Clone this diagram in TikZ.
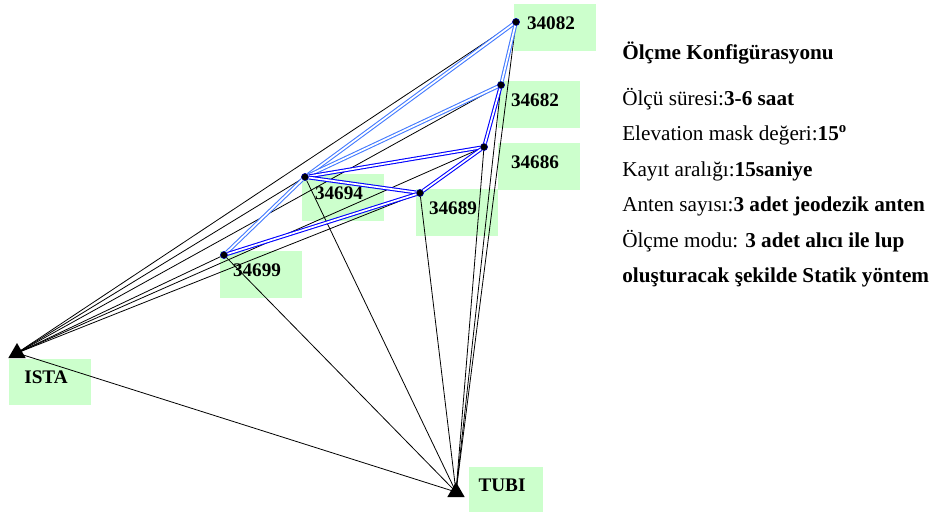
\documentclass[tikz,border=0pt]{standalone}
\usepackage{fontspec}
\setmainfont{Liberation Serif}
\usetikzlibrary{shapes.geometric}
\definecolor{boxgreen}{RGB}{204,255,204}
\definecolor{lightblue}{RGB}{66,121,255}

\tikzset{
  stn/.style={circle,fill=black,draw=blue!70!black,inner sep=0pt,minimum size=5.4pt},
  refpt/.style={regular polygon,regular polygon sides=3,fill=black,inner sep=0pt,minimum size=15pt},
  box/.style={fill=boxgreen,minimum width=61.5pt,minimum height=35pt,inner sep=0pt,
    label={[name=t#1,font=\fontsize{14.4}{16}\selectfont\bfseries,xshift=-3pt,yshift=3.4pt]center:#1}},
  obs/.style={line width=0.6pt},
  lblue/.style={draw=lightblue,double=white,double distance=1.3pt,line width=0.8pt},
  dblue/.style={draw=blue,double=white,double distance=1.3pt,line width=0.8pt},
  info/.style={anchor=base west,inner sep=0pt,font=\fontsize{15.9}{18}\selectfont}
}

\begin{document}
\begin{tikzpicture}[x=0.75pt,y=-0.75pt]
\useasboundingbox (0,0) rectangle (938,511);
% label boxes
\node[box=34082] (b34082) at (555,27.5) {};
\node[box=34682] (b34682) at (539,104.5) {};
\node[box=34686] (b34686) at (539,166.5) {};
\node[box=34694] (b34694) at (343,197.5) {};
\node[box=34689] (b34689) at (457,212.5) {};
\node[box=34699] (b34699) at (261,274.5) {};
\node[box=ISTA] (bISTA) at (50,382) {};
\node[box=TUBI,minimum width=56pt] (bTUBI) at (506,490) {};
% stations
\node[stn] (s34082) at (516,22) {};
\node[stn] (s34682) at (501,85) {};
\node[stn] (s34686) at (484,147) {};
\node[stn] (s34694) at (305,177) {};
\node[stn] (s34689) at (420,193) {};
\node[stn] (s34699) at (224,255) {};
\node[refpt] (ista) at (17,353) {};
\node[refpt] (tubi) at (456,492) {};
% ties to ISTA and TUBI
\draw[obs] (ista.center) -- (s34082);
\draw[obs] (ista.center) -- (s34682);
\draw[obs] (ista.center) -- (s34686);
\draw[obs] (ista.center) -- (s34694);
\draw[obs] (ista.center) -- (s34689);
\draw[obs] (ista.center) -- (s34699);
\draw[obs] (ista.center) -- (tubi.center);
\draw[obs] (tubi.center) -- (s34082);
\draw[obs] (tubi.center) -- (s34682);
\draw[obs] (tubi.center) -- (s34686);
\draw[obs] (tubi.center) -- (s34694);
\draw[obs] (tubi.center) -- (s34689);
\draw[obs] (tubi.center) -- (s34699);
% loops
\draw[lblue] (s34694) -- (s34082);
\draw[lblue] (s34682) -- (s34082);
\draw[lblue] (s34694) -- (s34682);
\draw[lblue] (s34694) -- (s34699);
\draw[dblue] (s34682) -- (s34686);
\draw[dblue] (s34694) -- (s34686);
\draw[dblue] (s34694) -- (s34689);
\draw[dblue] (s34689) -- (s34686);
\draw[dblue] (s34699) -- (s34689);
% configuration text
\node[info,font=\fontsize{15.9}{18}\selectfont\bfseries] (title) at (622,59) {Ölçme Konfigürasyonu};
\node[info] (i1) at (622,105) {Ölçü süresi:\textbf{3-6 saat}};
\node[info] (i2) at (622,140.5) {Elevation mask değeri:\textbf{15\textsuperscript{o}}};
\node[info] (i3) at (622,176) {Kayıt aralığı:\textbf{15saniye}};
\node[info] (i4) at (622,211.5) {Anten sayısı:\textbf{3 adet jeodezik anten}};
\node[info] (i5) at (622,247) {Ölçme modu: \textbf{3 adet alıcı ile lup}};
\node[info,font=\fontsize{15.9}{18}\selectfont\bfseries] (i6) at (622,282) {oluşturacak şekilde Statik yöntem};
\end{tikzpicture}
\end{document}
